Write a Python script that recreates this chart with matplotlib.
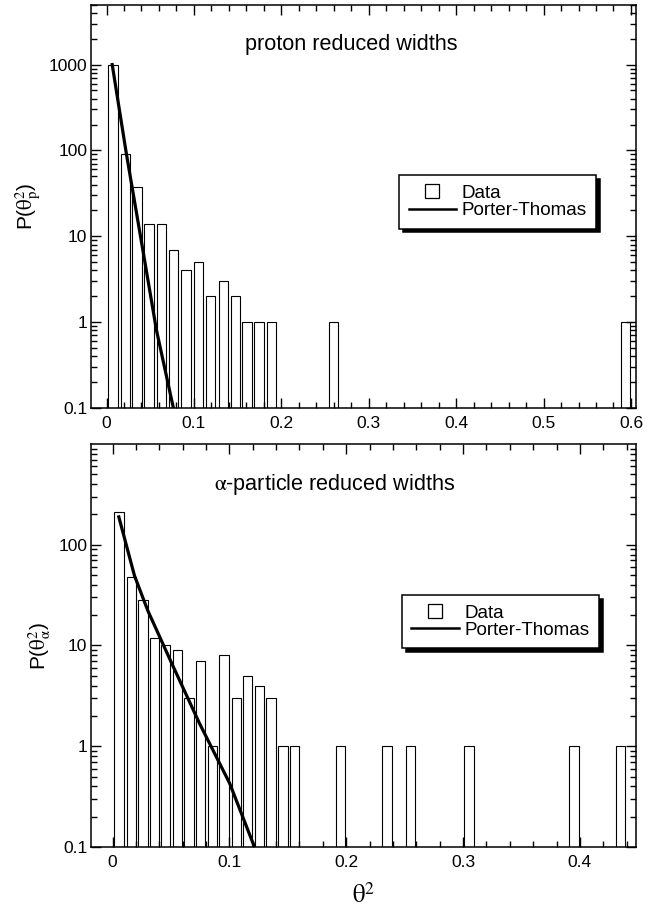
"""Reduced-width distributions (proton and alpha) with Porter-Thomas curves."""

import matplotlib
matplotlib.use("Agg")
import matplotlib.pyplot as plt
from matplotlib.lines import Line2D
from matplotlib.ticker import FixedLocator, LogLocator, NullFormatter, FuncFormatter

plt.rcParams["font.family"] = ["Liberation Sans", "DejaVu Sans"]
plt.rcParams["mathtext.fontset"] = "stix"

# ---- proton reduced widths ----
p_centers = [0.0076, 0.0216, 0.0347, 0.0485, 0.0628, 0.0766, 0.0911, 0.1053,
             0.1192, 0.1339, 0.1479, 0.1607, 0.1744, 0.1889, 0.2600, 0.5943, 0.6043]
p_counts = [1000, 90, 38, 14, 14, 7, 4, 5, 2, 3, 2, 1, 1, 1, 1, 1, 1]
p_pt_x = [0.0065, 0.0226, 0.0417, 0.0571, 0.0765]
p_pt_y = [1000, 93, 6.8, 0.81, 0.1]

# ---- alpha-particle reduced widths ----
a_centers = [0.0055, 0.0160, 0.0260, 0.0360, 0.0455, 0.0555, 0.0655, 0.0755,
             0.0855, 0.0955, 0.1060, 0.1155, 0.1260, 0.1355, 0.1460, 0.1555,
             0.1950, 0.2350, 0.2550, 0.3050, 0.3950, 0.4350]
a_counts = [210, 48, 28, 12, 10, 9, 3, 7, 1, 8, 3, 5, 4, 3, 1, 1,
            1, 1, 1, 1, 1, 1]
a_pt_x = [0.0054, 0.0188, 0.0302, 0.0503, 0.0745, 0.1002, 0.1215]
a_pt_y = [189, 49.3, 22.2, 6.8, 1.68, 0.43, 0.1]


def fmt_y(v, pos):
    return f"{v:g}"


def style_axis(ax, xlim, ylim, major, minor):
    ax.set_yscale("log")
    ax.set_xlim(xlim)
    ax.set_ylim(ylim)
    ax.xaxis.set_major_locator(FixedLocator(major))
    ax.xaxis.set_minor_locator(FixedLocator(minor))
    ax.xaxis.set_major_formatter(FuncFormatter(lambda v, p: f"{v:g}"))
    ax.yaxis.set_major_locator(LogLocator(base=10))
    ax.yaxis.set_minor_locator(LogLocator(base=10, subs=range(2, 10)))
    ax.yaxis.set_major_formatter(FuncFormatter(fmt_y))
    ax.yaxis.set_minor_formatter(NullFormatter())
    ax.tick_params(which="both", direction="in", top=True, right=True,
                   width=1.0, labelsize=12.5)
    ax.tick_params(axis="x", which="major", pad=6)
    ax.tick_params(axis="y", which="major", pad=3)
    ax.tick_params(which="major", length=7)
    ax.tick_params(which="minor", length=4)
    for s in ax.spines.values():
        s.set_linewidth(1.1)


def add_legend(ax, anchor):
    handles = [
        Line2D([], [], linestyle="none", marker="s", markersize=10.5,
               markerfacecolor="white", markeredgecolor="black", markeredgewidth=0.9),
        Line2D([], [], color="black", linewidth=1.8),
    ]
    leg = ax.legend(handles, ["Data", "Porter-Thomas"], loc="upper left",
                    bbox_to_anchor=anchor, fontsize=13.6, frameon=True,
                    fancybox=False,
                    shadow={"color": "black", "alpha": 1, "ox": 2.8, "oy": -2.8},
                    handlelength=2.5, handletextpad=0.3, labelspacing=0.0,
                    borderpad=0.5, borderaxespad=0)
    leg.get_frame().set_edgecolor("black")
    leg.get_frame().set_linewidth(1.1)


def main() -> None:
    fig = plt.figure(figsize=(6.53, 9.13), dpi=100)
    ax1 = fig.add_axes([0.1401, 0.5531, 0.8338, 0.4419])
    ax2 = fig.add_axes([0.1401, 0.0723, 0.8338, 0.4409])

    # top: protons
    ax1.bar(p_centers, p_counts, width=0.0107, bottom=1e-3, color="white",
            edgecolor="black", linewidth=0.8)
    ax1.plot(p_pt_x, p_pt_y, color="black", linewidth=2.3)
    style_axis(ax1, (-0.0172, 0.6057), (0.1, 5000),
               [0, 0.1, 0.2, 0.3, 0.4, 0.5, 0.6],
               [0.02 * i for i in range(31)])
    ax1.set_ylabel(r"P($\mathrm{\theta}^2_{\rm p}$)", fontsize=15, labelpad=4)
    ax1.text(0.478, 0.9, "proton reduced widths", transform=ax1.transAxes,
             ha="center", va="center", fontsize=15.6)
    add_legend(ax1, (0.565, 0.577))

    # bottom: alpha particles
    ax2.bar(a_centers, a_counts, width=0.008, bottom=1e-3, color="white",
            edgecolor="black", linewidth=0.8)
    ax2.plot(a_pt_x, a_pt_y, color="black", linewidth=2.3)
    style_axis(ax2, (-0.018, 0.448), (0.1, 990),
               [0, 0.1, 0.2, 0.3, 0.4],
               [0.02 * i for i in range(23)])
    ax2.set_ylabel(r"P($\mathrm{\theta}^2_{\mathrm{\alpha}}$)", fontsize=15, labelpad=4)
    ax2.set_xlabel(r"$\mathrm{\theta}^2$", fontsize=18, labelpad=9)
    ax2.text(0.447, 0.9, r"$\mathrm{\alpha}$-particle reduced widths",
             transform=ax2.transAxes, ha="center", va="center", fontsize=15.6)
    add_legend(ax2, (0.570, 0.626))

    fig.savefig("out.png", dpi=100)
    plt.close(fig)


if __name__ == "__main__":
    main()
